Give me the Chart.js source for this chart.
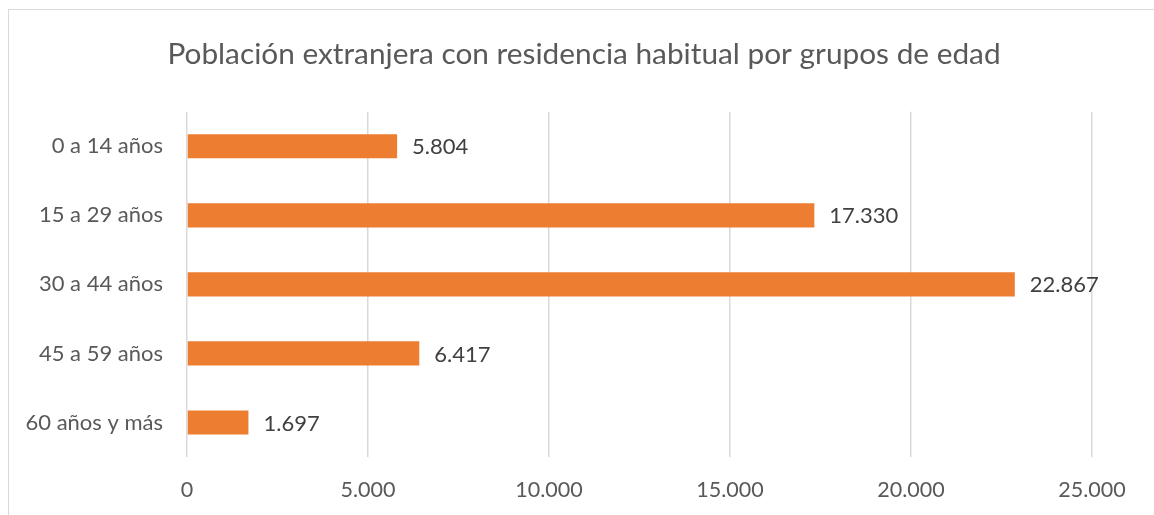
<!DOCTYPE html>
<html lang="es">
<head>
<meta charset="UTF-8" />
<title>Población extranjera por grupos de edad</title>
<script src="https://cdn.jsdelivr.net/npm/chart.js"></script>
<style>
  body { margin: 0; background: #fff; overflow: hidden; }
  #wrap {
    position: absolute; left: 8px; top: 9px;
    width: 1150px; height: 506px;
    border-left: 1px solid #D9D9D9; border-top: 1px solid #D9D9D9;
  }
</style>
</head>
<body>
<div id="wrap"><canvas id="chart" width="1150" height="505"></canvas></div>
<script>
const titleText = 'Población extranjera con residencia habitual por grupos de edad';
const groups = ['0 a 14 años', '15 a 29 años', '30 a 44 años', '45 a 59 años', '60 años y más'];
const people = [5804, 17330, 22867, 6417, 1697];
const xTicks = [0, 5000, 10000, 15000, 20000, 25000];

const textGrey = '#595959';
const fontFamily = 'Lato, "Open Sans", sans-serif';

// miles con punto, como en el original
const fmt = v => String(v).replace(/\B(?=(\d{3})+(?!\d))/g, '.');

// etiquetas de valor al final de cada barra
const barLabels = {
    id: 'barLabels',
    afterDatasetsDraw(chart) {
        const ctx = chart.ctx;
        const meta = chart.getDatasetMeta(0);
        ctx.save();
        ctx.font = '22px ' + fontFamily;
        ctx.fillStyle = '#404040';
        ctx.textAlign = 'left';
        ctx.textBaseline = 'middle';
        meta.data.forEach((bar, i) => {
            ctx.fillText(fmt(people[i]), bar.x + 15, bar.y + 1);
        });
        ctx.restore();
    }
};

new Chart(document.getElementById('chart'), {
    type: 'bar',
    data: {
        labels: groups,
        datasets: [{
            data: people,
            backgroundColor: '#ED7D31',
            barPercentage: 0.35,
            categoryPercentage: 1
        }]
    },
    options: {
        indexAxis: 'y',
        responsive: false,
        animation: false,
        layout: { padding: 0 },
        plugins: {
            legend: { display: false },
            tooltip: { enabled: false },
            title: {
                display: true,
                text: titleText,
                color: textGrey,
                font: { family: fontFamily, size: 29.8, weight: 'normal' },
                padding: { top: 27, bottom: 39 }
            }
        },
        scales: {
            x: {
                min: 0,
                max: 25000,
                afterBuildTicks: s => { s.ticks = xTicks.map(v => ({ value: v })); },
                afterFit: s => { s.height = 58; },
                border: { display: false },
                grid: { color: '#D9D9D9', lineWidth: 1.5, drawTicks: false },
                ticks: {
                    padding: 20,
                    color: textGrey,
                    font: { family: fontFamily, size: 21.5 },
                    callback: v => fmt(v)
                }
            },
            y: {
                afterFit: s => { s.width = 178; },
                border: { display: false },
                grid: { display: false, drawTicks: false },
                ticks: {
                    padding: 24,
                    color: textGrey,
                    font: { family: fontFamily, size: 22 }
                }
            },
            // margen derecho vacío, para que el título quede centrado en todo el gráfico
            rightGap: {
                type: 'linear',
                position: 'right',
                axis: 'y',
                afterFit: s => { s.width = 67; },
                border: { display: false },
                grid: { display: false, drawTicks: false },
                ticks: { display: false }
            }
        }
    },
    plugins: [barLabels]
});
</script>
</body>
</html>
